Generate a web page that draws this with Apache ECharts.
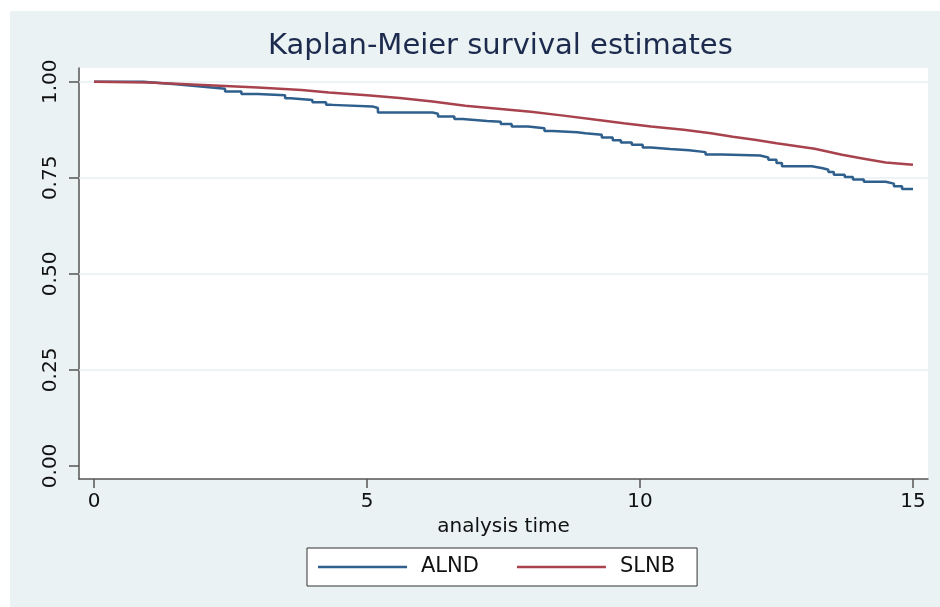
<!DOCTYPE html>
<html>
<head>
<meta charset="utf-8">
<script src="https://cdn.jsdelivr.net/npm/echarts@6/dist/echarts.min.js"></script>
<style>
  html, body { margin: 0; padding: 0; background: #fff; }
  #main { position: absolute; left: 10px; top: 11px; width: 930px; height: 596px; }
</style>
</head>
<body>
<div id="main"></div>
<script>
// Kaplan-Meier estimates (time in years, survival)
var alndTime = [0, 0.9, 1.2, 1.5, 1.8, 2.1, 2.4, 2.7, 3.0, 3.5, 3.6, 4.0, 4.25, 4.35, 5.1, 5.2, 6.2, 6.3, 6.6, 6.75,
  7.2, 7.45, 7.65, 7.95, 8.25, 8.4, 8.85, 9.0, 9.3, 9.5, 9.65, 9.85, 10.05, 10.2, 10.55, 10.9, 11.2, 11.5,
  12.2, 12.35, 12.5, 12.6, 13.15, 13.35, 13.45, 13.55, 13.75, 13.9, 14.1, 14.5, 14.65, 14.8, 15.0];
var alndSurv = [1.000, 0.997, 0.994, 0.990, 0.986, 0.982, 0.975, 0.968, 0.965, 0.957, 0.953, 0.947, 0.940, 0.936, 0.932, 0.920, 0.917, 0.910, 0.903, 0.898,
  0.896, 0.890, 0.884, 0.879, 0.872, 0.869, 0.866, 0.862, 0.855, 0.848, 0.842, 0.836, 0.829, 0.825, 0.822, 0.817, 0.811, 0.808,
  0.803, 0.797, 0.789, 0.780, 0.775, 0.771, 0.765, 0.758, 0.752, 0.746, 0.740, 0.735, 0.728, 0.721, 0.721];

var slnbTime = [0, 1, 2, 3, 3.8, 4.3, 5, 5.6, 6.2, 6.8, 7.4, 8, 8.6, 9.2, 9.7, 10.2, 10.8, 11.3, 11.7, 12.1, 12.5, 13.2, 13.7, 14.1, 14.5, 15];
var slnbSurv = [1.000, 0.998, 0.992, 0.985, 0.979, 0.972, 0.965, 0.958, 0.949, 0.938, 0.930, 0.922, 0.912, 0.901, 0.892, 0.884, 0.875, 0.866, 0.857, 0.849, 0.840, 0.826, 0.810, 0.800, 0.790, 0.784];

var xTicks = [0, 5, 10, 15];
var yTicks = [0, 0.25, 0.5, 0.75, 1];

var font = 'DejaVu Sans';
var axisColor = '#555';

function pairs(xs, ys) {
  return xs.map(function (x, i) { return [x, ys[i]]; });
}

var chart = echarts.init(document.getElementById('main'), null, { renderer: 'canvas' });

var option = {
  backgroundColor: '#eaf2f3',
  animation: false,
  title: {
    text: 'Kaplan-Meier survival estimates',
    left: 258,
    top: 21,
    padding: 0,
    textStyle: { fontFamily: font, fontSize: 29, fontWeight: 'normal', color: '#1c2a4e' }
  },
  grid: {
    left: 69,
    right: 12,
    top: 57,
    bottom: 128,
    show: true,
    backgroundColor: '#fff',
    borderWidth: 0
  },
  legend: {
    left: 297,
    top: 537,
    padding: [8, 22, 8, 11],
    backgroundColor: '#fff',
    borderColor: '#333',
    borderWidth: 1,
    borderRadius: 0,
    icon: 'rect',
    itemWidth: 89,
    itemHeight: 2.5,
    itemGap: 38,
    data: ['ALND', 'SLNB'],
    textStyle: { fontFamily: font, fontSize: 21, lineHeight: 22, color: '#111', padding: [0, 0, 0, 9] }
  },
  xAxis: {
    type: 'value',
    min: -0.275,
    max: 15.275,
    name: 'analysis time',
    nameLocation: 'middle',
    nameGap: 35,
    nameTextStyle: { fontFamily: font, fontSize: 20, color: '#111' },
    axisLine: { show: true, onZero: false, lineStyle: { color: axisColor, width: 1.5 } },
    axisTick: { show: true, length: 9, customValues: xTicks, lineStyle: { color: axisColor, width: 1.5 } },
    axisLabel: { customValues: xTicks, margin: 13, fontFamily: font, fontSize: 20, color: '#111' },
    splitLine: { show: false }
  },
  yAxis: {
    type: 'value',
    min: -0.034,
    max: 1.036,
    axisLine: { show: true, onZero: false, lineStyle: { color: axisColor, width: 1.5 } },
    axisTick: { show: true, length: 10, customValues: yTicks, lineStyle: { color: axisColor, width: 1.5 } },
    axisLabel: {
      customValues: yTicks,
      rotate: 90,
      margin: 18,
      fontFamily: font,
      fontSize: 20,
      color: '#111',
      formatter: function (v) { return v.toFixed(2); }
    },
    splitLine: { show: false }
  },
  series: [
    {
      name: 'ALND',
      type: 'line',
      step: 'end',
      symbol: 'none',
      color: '#2f5f8c',
      lineStyle: { width: 2.5, color: '#2f5f8c' },
      data: pairs(alndTime, alndSurv),
      z: 3,
      markLine: {
        silent: true,
        symbol: ['none', 'none'],
        label: { show: false },
        lineStyle: { color: '#e9f0f2', width: 1.5, type: 'solid' },
        data: yTicks.filter(function (v) { return v > 0; }).map(function (v) { return { yAxis: v }; }),
        z: 1
      }
    },
    {
      name: 'SLNB',
      type: 'line',
      symbol: 'none',
      color: '#a8434e',
      lineStyle: { width: 2.5, color: '#a8434e' },
      data: pairs(slnbTime, slnbSurv),
      z: 3
    }
  ]
};

chart.setOption(option);
</script>
</body>
</html>
